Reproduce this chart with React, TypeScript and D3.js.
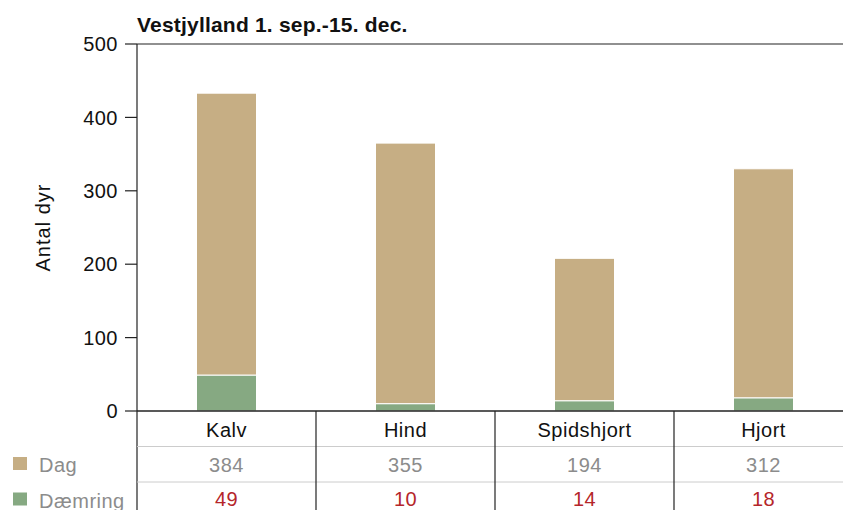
import React, { useEffect, useRef } from 'react'
import * as d3 from 'd3'

const categories = ['Kalv', 'Hind', 'Spidshjort', 'Hjort']
const dagValues = [384, 355, 194, 312]
const daemringValues = [49, 10, 14, 18]
const seriesNames = ['Dag', 'Dæmring']
const seriesColors = ['#c6ae84', '#86a982']
const yTicks = [0, 100, 200, 300, 400, 500]

export default function App() {
  const ref = useRef<SVGSVGElement>(null)

  useEffect(() => {
    const width = 843
    const height = 510
    const left = 137
    const top = 44
    const zeroY = 411
    const bandW = 179
    const rowH = 35.5
    const font = 'Arial, "Liberation Sans", sans-serif'
    const fs = 20
    const ls = 0.5

    const svg = d3.select(ref.current)
    svg.selectAll('*').remove()

    const x = d3.scaleBand<string>()
      .domain(categories)
      .range([left, left + bandW * categories.length])
      .paddingInner(0)
      .paddingOuter(0)

    const y = d3.scaleLinear().domain([0, 500]).range([zeroY, top])

    const rows = categories.map((c, i) => ({ cat: c, Dag: dagValues[i], 'Dæmring': daemringValues[i] }))
    const stacked = d3.stack<any>().keys(['Dæmring', 'Dag'])(rows)
    const color = d3.scaleOrdinal<string, string>().domain(seriesNames).range(seriesColors)

    const barW = 60
    svg.append('g')
      .selectAll('g')
      .data(stacked)
      .join('g')
      .attr('fill', d => color(d.key))
      .selectAll('rect')
      .data(d => d)
      .join('rect')
      .attr('x', d => x(d.data.cat)! + x.bandwidth() / 2 - barW / 2)
      .attr('width', barW)
      .attr('y', d => y(d[1]))
      .attr('height', d => y(d[0]) - y(d[1]))
      .attr('stroke', '#fff')
      .attr('stroke-width', 1)

    // frame: top line and left axis
    svg.append('line')
      .attr('x1', left).attr('x2', width)
      .attr('y1', top).attr('y2', top)
      .attr('stroke', '#222').attr('stroke-width', 1.2)
    svg.append('line')
      .attr('x1', left).attr('x2', left)
      .attr('y1', top).attr('y2', height)
      .attr('stroke', '#222').attr('stroke-width', 1.2)

    // y axis ticks
    const yAxis = svg.append('g')
    yAxis.selectAll('line')
      .data(yTicks)
      .join('line')
      .attr('x1', left - 12).attr('x2', left)
      .attr('y1', d => y(d)).attr('y2', d => y(d))
      .attr('stroke', '#222').attr('stroke-width', 1.2)
    yAxis.selectAll('text')
      .data(yTicks)
      .join('text')
      .attr('x', left - 19)
      .attr('y', d => y(d))
      .attr('dy', '0.36em')
      .attr('text-anchor', 'end')
      .attr('font-family', font)
      .attr('font-size', fs)
      .attr('letter-spacing', ls)
      .attr('fill', '#111')
      .text(d => d)

    svg.append('text')
      .attr('transform', `translate(50, ${(top + zeroY) / 2}) rotate(-90)`)
      .attr('text-anchor', 'middle')
      .attr('font-family', font)
      .attr('font-size', fs)
      .attr('letter-spacing', 1)
      .attr('fill', '#111')
      .text('Antal dyr')

    svg.append('text')
      .attr('x', left)
      .attr('y', 32)
      .attr('font-family', font)
      .attr('font-size', 21)
      .attr('font-weight', 'bold')
      .attr('letter-spacing', 0.2)
      .attr('fill', '#111')
      .text('Vestjylland 1. sep.-15. dec.')

    // table
    svg.append('line')
      .attr('x1', left).attr('x2', width)
      .attr('y1', zeroY).attr('y2', zeroY)
      .attr('stroke', '#222').attr('stroke-width', 1.5)
    ;[1, 2].forEach(r => {
      svg.append('line')
        .attr('x1', left).attr('x2', width)
        .attr('y1', zeroY + rowH * r).attr('y2', zeroY + rowH * r)
        .attr('stroke', '#ccc').attr('stroke-width', 1)
    })
    svg.append('g')
      .selectAll('line')
      .data(categories.slice(1))
      .join('line')
      .attr('x1', d => x(d)!).attr('x2', d => x(d)!)
      .attr('y1', zeroY).attr('y2', height)
      .attr('stroke', '#222').attr('stroke-width', 1.2)

    const cx = (c: string) => x(c)! + x.bandwidth() / 2
    svg.append('g')
      .selectAll('text')
      .data(categories)
      .join('text')
      .attr('x', d => cx(d))
      .attr('y', 437)
      .attr('text-anchor', 'middle')
      .attr('font-family', font)
      .attr('font-size', fs)
      .attr('letter-spacing', ls)
      .attr('fill', '#111')
      .text(d => d)

    svg.append('g')
      .selectAll('text')
      .data(dagValues)
      .join('text')
      .attr('x', (_, i) => cx(categories[i]))
      .attr('y', 472)
      .attr('text-anchor', 'middle')
      .attr('font-family', font)
      .attr('font-size', fs)
      .attr('letter-spacing', ls)
      .attr('fill', '#8c8c8c')
      .text(d => d)

    svg.append('g')
      .selectAll('text')
      .data(daemringValues)
      .join('text')
      .attr('x', (_, i) => cx(categories[i]))
      .attr('y', 506)
      .attr('text-anchor', 'middle')
      .attr('font-family', font)
      .attr('font-size', fs)
      .attr('letter-spacing', ls)
      .attr('fill', '#b5262a')
      .text(d => d)

    // legend in row headers
    const legend = svg.append('g')
      .selectAll('g')
      .data(seriesNames)
      .join('g')
      .attr('transform', (_, i) => `translate(13, ${457 + rowH * i})`)
    legend.append('rect')
      .attr('width', 14).attr('height', 13)
      .attr('fill', d => color(d))
    legend.append('text')
      .attr('x', 26)
      .attr('y', 15)
      .attr('font-family', font)
      .attr('font-size', fs)
      .attr('letter-spacing', ls)
      .attr('fill', '#8c8c8c')
      .text(d => d)
  }, [])

  return (
    <svg ref={ref} width={843} height={510}
      style={{ position: 'absolute', left: 0, top: 0, background: '#fff' }} />
  )
}
